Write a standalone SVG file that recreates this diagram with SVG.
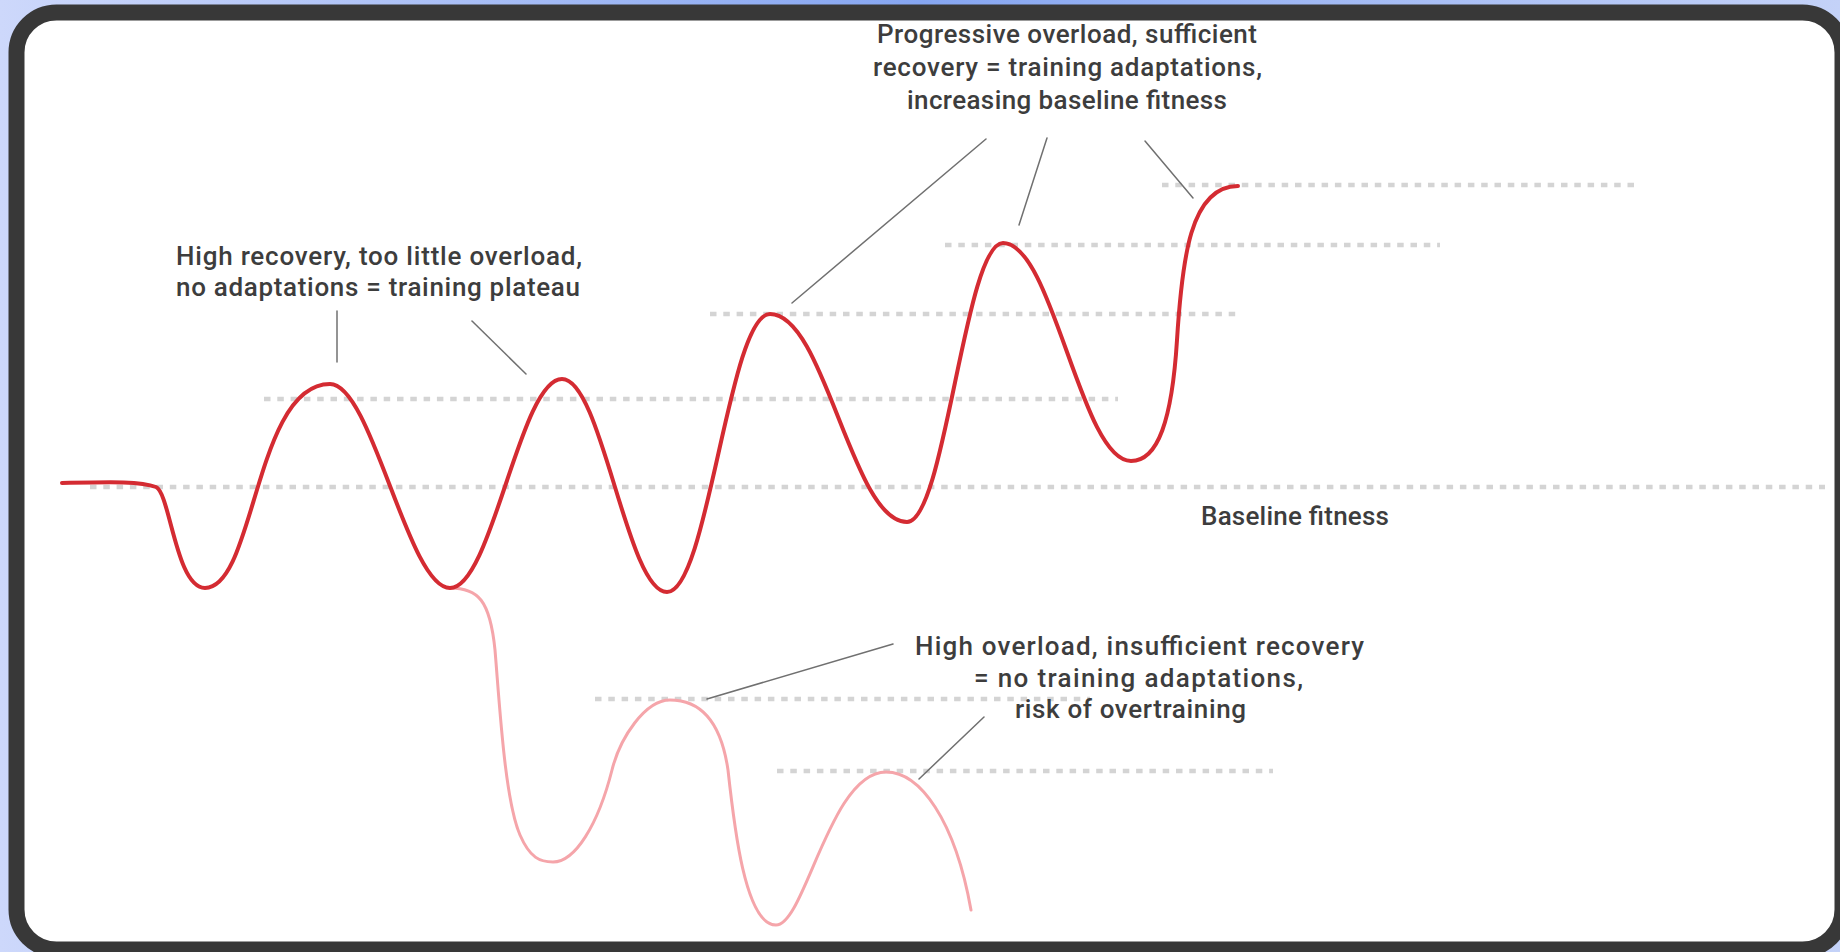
<svg xmlns="http://www.w3.org/2000/svg" width="1840" height="952" viewBox="0 0 1840 952">
<defs>
<linearGradient id="bg" x1="0" y1="0" x2="1" y2="0">
<stop offset="0" stop-color="#cdd8fb"/>
<stop offset="0.5" stop-color="#86a6f1"/>
<stop offset="1" stop-color="#c4d2f8"/>
</linearGradient>
<style>
.lbl{font-family:Roboto,"Liberation Sans",Arial,sans-serif;font-weight:500;font-size:26px;fill:#3d3d3d}
.grid{stroke:#d4d4d4;stroke-width:4.5;stroke-dasharray:6.5 6.8;fill:none}
.lead{stroke:#707070;stroke-width:1.5;fill:none;stroke-linecap:round}
.main{stroke:#d42b32;stroke-width:4;fill:none;stroke-linecap:round;stroke-linejoin:round}
.alt{stroke:#f5a5aa;stroke-width:3;fill:none;stroke-linecap:round}
</style>
</defs>
<rect x="0" y="0" width="1840" height="952" fill="url(#bg)"/>
<rect id="panel" x="16.5" y="12.5" width="1826" height="937" rx="40" ry="40" fill="#ffffff" stroke="#383838" stroke-width="16"/>

<g id="reference-lines">
<line class="grid" x1="1162" y1="185" x2="1636" y2="185"/>
<line class="grid" x1="945" y1="245" x2="1440" y2="245"/>
<line class="grid" x1="710" y1="314" x2="1240" y2="314"/>
<line class="grid" x1="264" y1="399" x2="1118" y2="399"/>
<line class="grid" x1="90" y1="487" x2="1825" y2="487"/>
<line class="grid" x1="595" y1="699" x2="1090" y2="699"/>
<line class="grid" x1="777" y1="771" x2="1273" y2="771"/>
</g>

<g id="overtraining-curve">
<path class="alt" d="M 450 588 C 478 588, 490 600, 495 650 C 500 710, 505 800, 520 835 C 530 858, 540 862, 553 862 C 575 862, 598 825, 612 770 C 620 738, 645 700, 670 700 C 695 700, 720 715, 728 770 C 734 825, 745 925, 776 925 C 805 925, 830 772, 886 772 C 920 772, 955 820, 971 910"/>
</g>

<g id="fitness-curve">
<path class="main" d="M 62 483 C 110 482, 140 481, 156 487 C 170 493, 176 588, 205 588 C 255 588, 255 384, 330 384 C 372 384, 408 588, 450 588 C 492 588, 520 379, 562 379 C 602 379, 627 592, 667 592 C 708 592, 729 314, 770 314 C 825 314, 852 522, 907 522 C 945 522, 965 243, 1003 243 C 1053 243, 1081 461, 1131 461 C 1158 461, 1172 420, 1177 340 C 1182 260, 1190 186, 1238 186"/>
</g>

<g id="connectors">
<line class="lead" x1="986" y1="139" x2="792" y2="303"/>
<line class="lead" x1="1047" y1="138" x2="1019" y2="225"/>
<line class="lead" x1="1145" y1="141" x2="1193" y2="198"/>
<line class="lead" x1="337" y1="311" x2="337" y2="362"/>
<line class="lead" x1="472" y1="321" x2="526" y2="374"/>
<line class="lead" x1="893" y1="644" x2="707" y2="699"/>
<line class="lead" x1="984" y1="717" x2="919" y2="779"/>
</g>

<g id="label-progressive">
<text class="lbl" x="877" y="43" textLength="380" lengthAdjust="spacing">Progressive overload, sufficient</text>
<text class="lbl" x="873" y="76" textLength="389" lengthAdjust="spacing">recovery = training adaptations,</text>
<text class="lbl" x="907" y="109" textLength="320" lengthAdjust="spacing">increasing baseline fitness</text>
</g>

<g id="label-plateau">
<text class="lbl" x="176" y="265" textLength="406" lengthAdjust="spacing">High recovery, too little overload,</text>
<text class="lbl" x="176" y="296" textLength="404" lengthAdjust="spacing">no adaptations = training plateau</text>
</g>

<g id="label-overtraining">
<text class="lbl" x="915" y="655" textLength="449" lengthAdjust="spacing">High overload, insufficient recovery</text>
<text class="lbl" x="974" y="687" textLength="329" lengthAdjust="spacing">= no training adaptations,</text>
<text class="lbl" x="1015" y="718" textLength="231" lengthAdjust="spacing">risk of overtraining</text>
</g>

<g id="label-baseline">
<text class="lbl" x="1201" y="525" textLength="188" lengthAdjust="spacing">Baseline fitness</text>
</g>
</svg>
